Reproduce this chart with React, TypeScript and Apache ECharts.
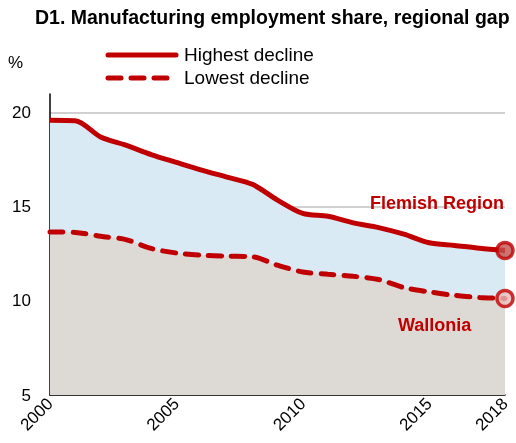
import React, { useEffect, useRef } from "react";
import * as echarts from "echarts";

const years = ["2000","2001","2002","2003","2004","2005","2006","2007","2008","2009","2010","2011","2012","2013","2014","2015","2016","2017","2018"];
const flemish = [19.61,19.58,18.72,18.28,17.78,17.36,16.95,16.58,16.2,15.36,14.65,14.5,14.15,13.9,13.55,13.09,12.95,12.8,12.68];
const wallonia = [13.67,13.64,13.44,13.26,12.79,12.55,12.43,12.38,12.35,11.9,11.54,11.42,11.31,11.14,10.71,10.48,10.3,10.18,10.13];
const shownYears = ["2000","2005","2010","2015","2018"];
const yTicks = [5, 10, 15, 20];

const RED = "#c00000";
const FONT = "'Liberation Sans', Arial, sans-serif";

export default function App() {
  const ref = useRef<HTMLDivElement>(null);
  useEffect(() => {
    if (!ref.current) return;
    const chart = echarts.init(ref.current, null, { renderer: "svg" });
    const last = years.length - 1;
    chart.setOption({
      animation: false,
      grid: { left: 50, right: 11, top: 94, bottom: 48 },
      xAxis: {
        type: "category",
        data: years,
        boundaryGap: false,
        axisLine: { lineStyle: { color: "#000", width: 1.5 } },
        axisTick: { show: false },
        axisLabel: {
          interval: (i: number, v: string) => shownYears.includes(v),
          rotate: 45,
          fontSize: 17,
          color: "#000",
          fontFamily: FONT,
          margin: 6,
        },
        splitLine: { show: false },
      },
      yAxis: {
        type: "value",
        min: 5,
        max: 21,
        interval: 5,
        axisLine: { show: true, lineStyle: { color: "#000", width: 1.5 } },
        axisTick: { show: false },
        axisLabel: {
          fontSize: 17,
          color: "#000",
          fontFamily: FONT,
          margin: 19,
          formatter: (v: number) => (yTicks.includes(v) ? String(v) : ""),
        },
        splitLine: {
          show: true,
          lineStyle: {
            color: ["#c0c0c0", "#c0c0c0", "#c0c0c0", "#c0c0c0", "rgba(0,0,0,0)"],
            width: 1.5,
          },
        },
      },
      series: [
        {
          name: "Highest decline",
          type: "line",
          data: flemish,
          smooth: 0.3,
          symbol: "none",
          lineStyle: { color: RED, width: 5 },
          areaStyle: { color: "#daeaf4", opacity: 1, origin: "start" },
          z: 2,
        },
        {
          name: "Lowest decline",
          type: "line",
          data: wallonia,
          smooth: 0.3,
          symbol: "none",
          lineStyle: { color: RED, width: 5, type: [13, 10], cap: "round" },
          areaStyle: { color: "#dddad6", opacity: 1, origin: "start" },
          z: 3,
        },
        {
          type: "scatter",
          data: [[years[last], flemish[last]]],
          symbol: "circle",
          symbolSize: 16,
          itemStyle: { color: "#c0504d", borderColor: RED, borderWidth: 3.5 },
          z: 5,
        },
        {
          type: "scatter",
          data: [[years[last], wallonia[last]]],
          symbol: "circle",
          symbolSize: 16,
          itemStyle: { color: "#e6b9b8", borderColor: RED, borderWidth: 3.5 },
          z: 5,
        },
      ],
      graphic: [
        {
          type: "text",
          left: 35,
          top: 7,
          z: 10,
          style: {
            text: "D1. Manufacturing employment share, regional gap",
            font: `bold 19.5px ${FONT}`,
            fill: "#000",
          },
        },
        {
          type: "text",
          left: 8,
          top: 54,
          z: 10,
          style: { text: "%", font: `17px ${FONT}`, fill: "#000" },
        },
        {
          type: "line",
          z: 10,
          shape: { x1: 108, y1: 55, x2: 176, y2: 55 },
          style: { stroke: RED, lineWidth: 5, lineCap: "round" },
        },
        {
          type: "text",
          left: 184,
          top: 45,
          z: 10,
          style: { text: "Highest decline", font: `19px ${FONT}`, fill: "#000" },
        },
        {
          type: "line",
          z: 10,
          shape: { x1: 108, y1: 78, x2: 176, y2: 78 },
          style: { stroke: RED, lineWidth: 5, lineCap: "round", lineDash: [13, 10] },
        },
        {
          type: "text",
          left: 184,
          top: 68,
          z: 10,
          style: { text: "Lowest decline", font: `19px ${FONT}`, fill: "#000" },
        },
        {
          type: "text",
          right: 12,
          top: 194,
          z: 10,
          style: { text: "Flemish Region", font: `bold 18px ${FONT}`, fill: RED },
        },
        {
          type: "text",
          left: 398,
          top: 316,
          z: 10,
          style: { text: "Wallonia", font: `bold 18px ${FONT}`, fill: RED },
        },
      ],
    });
    return () => chart.dispose();
  }, []);
  return (
    <div
      ref={ref}
      style={{ position: "fixed", left: 0, top: 0, width: 516, height: 443 }}
    />
  );
}
